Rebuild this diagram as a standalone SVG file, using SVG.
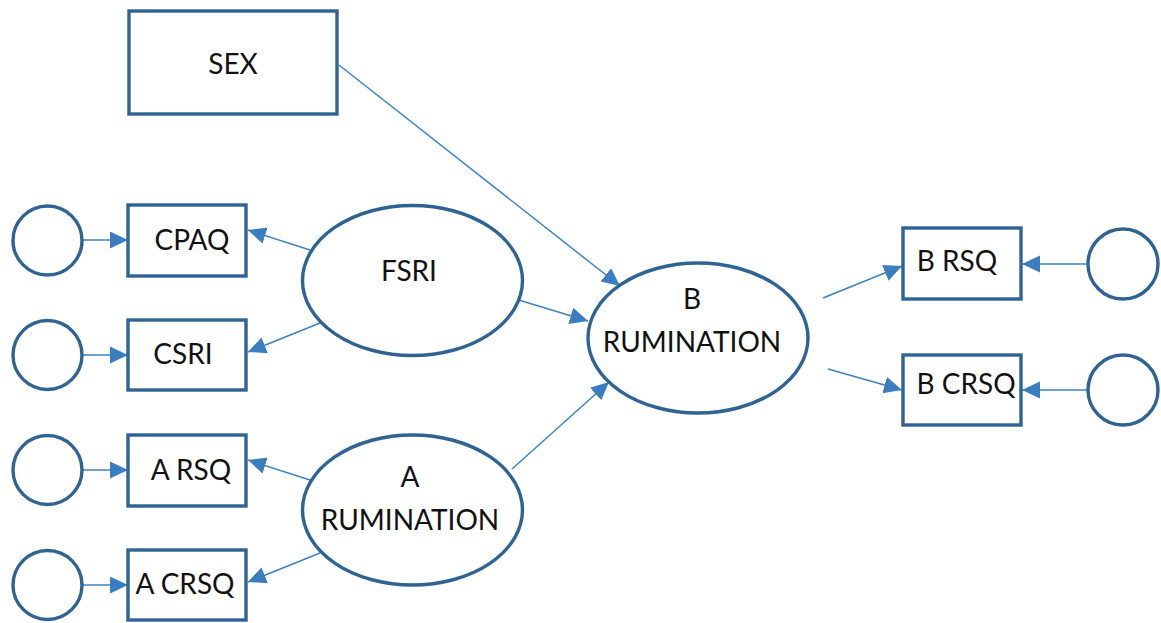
<svg xmlns="http://www.w3.org/2000/svg" width="1161" height="623" viewBox="0 0 1161 623">
<defs>
<marker id="ah" markerUnits="userSpaceOnUse" markerWidth="20" markerHeight="18" refX="18" refY="8.5" orient="auto">
<path d="M0,0 L18,8.5 L0,17 z" fill="#3a7ebf"/>
</marker>
<style>
.shape{fill:#fff;stroke:#2f6393;stroke-width:3.4}
.lbl{font-family:Lato,"Open Sans","Liberation Sans",sans-serif;font-size:28px;fill:#111;text-anchor:middle}
.edge{stroke:#3f82c2;stroke-width:1.5;fill:none;marker-end:url(#ah)}
</style>
</defs>
<rect width="1161" height="623" fill="#fff"/>
<g id="connectors">
<line class="edge" x1="339" y1="65" x2="620" y2="286"/>
<line class="edge" x1="512" y1="298" x2="588" y2="321"/>
<line class="edge" x1="512" y1="469" x2="609" y2="382"/>
<line class="edge" x1="310" y1="250" x2="248" y2="230"/>
<line class="edge" x1="320" y1="323" x2="248" y2="352"/>
<line class="edge" x1="310" y1="480" x2="248" y2="460"/>
<line class="edge" x1="320" y1="553" x2="248" y2="582"/>
<line class="edge" x1="823" y1="298" x2="902" y2="266"/>
<line class="edge" x1="828" y1="369" x2="902" y2="390"/>
<line class="edge" x1="82" y1="240" x2="128" y2="240"/>
<line class="edge" x1="82" y1="355" x2="128" y2="355"/>
<line class="edge" x1="82" y1="470" x2="128" y2="470"/>
<line class="edge" x1="82" y1="585" x2="128" y2="585"/>
<line class="edge" x1="1088" y1="264" x2="1022" y2="264"/>
<line class="edge" x1="1088" y1="390" x2="1022" y2="390"/>
</g>
<g id="sex"><rect class="shape" x="129" y="11" width="208" height="103"/><text class="lbl" x="233" y="74">SEX</text></g>
<g id="e_cpaq"><circle class="shape" cx="47.5" cy="240.5" r="34.5"/></g>
<g id="e_csri"><circle class="shape" cx="47.5" cy="355" r="34.5"/></g>
<g id="e_arsq"><circle class="shape" cx="47.5" cy="470" r="34.5"/></g>
<g id="e_acrsq"><circle class="shape" cx="47.5" cy="585" r="34.5"/></g>
<g id="cpaq"><rect class="shape" x="128" y="205" width="118" height="71"/><text class="lbl" x="192" y="250">CPAQ</text></g>
<g id="csri"><rect class="shape" x="128" y="320" width="118" height="70"/><text class="lbl" x="183" y="364">CSRI</text></g>
<g id="arsq"><rect class="shape" x="128" y="435" width="118" height="71"/><text class="lbl" x="191" y="480">A RSQ</text></g>
<g id="acrsq"><rect class="shape" x="128" y="550" width="118" height="70"/><text class="lbl" x="185" y="594">A CRSQ</text></g>
<g id="fsri"><ellipse class="shape" cx="412.5" cy="280.5" rx="110" ry="75"/><text class="lbl" x="409" y="281">FSRI</text></g>
<g id="arum"><ellipse class="shape" cx="412.5" cy="510" rx="110" ry="75"/><text class="lbl" x="410" y="487">A</text><text class="lbl" x="410" y="530">RUMINATION</text></g>
<g id="brum"><ellipse class="shape" cx="698" cy="338" rx="110" ry="75"/><text class="lbl" x="692" y="309">B</text><text class="lbl" x="692" y="352">RUMINATION</text></g>
<g id="brsq"><rect class="shape" x="903" y="228" width="118" height="71"/><text class="lbl" x="957" y="271">B RSQ</text></g>
<g id="bcrsq"><rect class="shape" x="903" y="355" width="118" height="70"/><text class="lbl" x="966" y="394">B CRSQ</text></g>
<g id="e_brsq"><circle class="shape" cx="1123" cy="264" r="35"/></g>
<g id="e_bcrsq"><circle class="shape" cx="1123" cy="390" r="35"/></g>
</svg>
